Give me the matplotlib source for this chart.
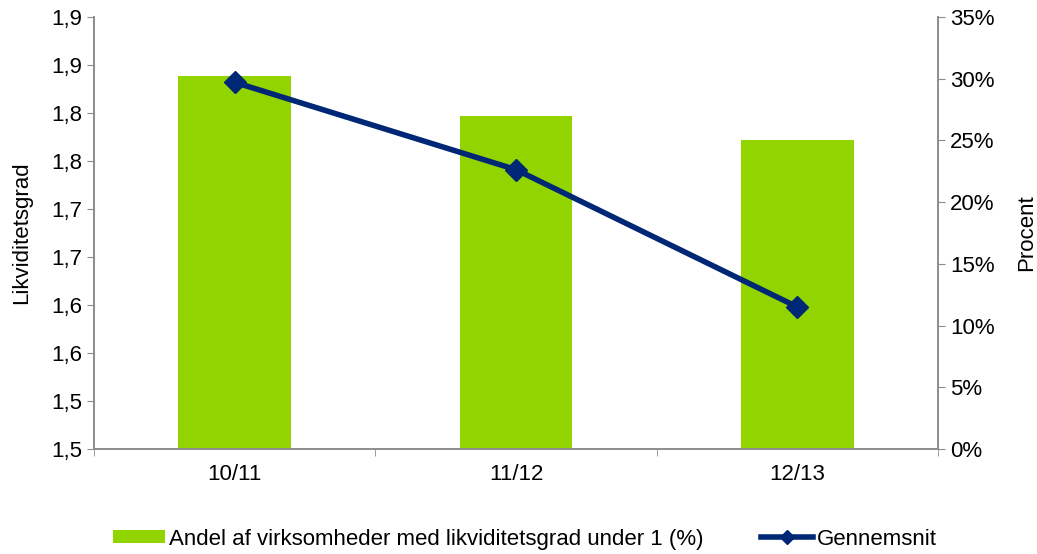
import matplotlib.pyplot as plt
from matplotlib.patches import Patch
from matplotlib.lines import Line2D

plt.rcParams['font.family'] = ['Liberation Sans', 'DejaVu Sans']

# data
periods = ["10/11", "11/12", "12/13"]
andel_pct = [30.2, 27.0, 25.0]          # right axis, percent
gennemsnit = [1.882, 1.791, 1.648]      # left axis, likviditetsgrad

left_ticks = [1.50, 1.55, 1.60, 1.65, 1.70, 1.75, 1.80, 1.85, 1.90, 1.95]
left_labels = ["1,5", "1,5", "1,6", "1,6", "1,7", "1,7", "1,8", "1,8", "1,9", "1,9"]
right_ticks = [0, 5, 10, 15, 20, 25, 30, 35]

GREEN = "#92D400"
NAVY = "#002776"
GRAY = "#8C8C8C"
FS = 16

fig = plt.figure(figsize=(10.37, 5.54), dpi=100)
ax = fig.add_axes([0.0906, 0.1895, 0.8139, 0.7798])
ax2 = ax.twinx()

x = list(range(len(periods)))
ax2.bar(x, andel_pct, width=0.4, color=GREEN, zorder=1)
ax2.set_ylim(0, 35)
ax2.set_yticks(right_ticks)
ax2.set_yticklabels([f"{t}%" for t in right_ticks], fontsize=FS)
ax2.set_ylabel("Procent", fontsize=FS, labelpad=16)

ax.plot(x, gennemsnit, color=NAVY, lw=4, marker="D", markersize=11, zorder=5)
ax.set_ylim(1.5, 1.95)
ax.set_yticks(left_ticks)
ax.set_yticklabels(left_labels, fontsize=FS)
ax.set_ylabel("Likviditetsgrad", fontsize=FS, labelpad=14)

ax.set_xlim(-0.5, 2.5)
ax.set_xticks(x)
ax.set_xticklabels(periods, fontsize=FS)
ax.set_xticks([-0.5, 0.5, 1.5, 2.5], minor=True)
ax.tick_params(axis="x", which="major", length=0, pad=11)
ax.tick_params(axis="x", which="minor", length=5, color=GRAY)
ax.tick_params(axis="y", length=5, color=GRAY)
ax2.tick_params(axis="y", length=5, color=GRAY)

# line above bars
ax.set_zorder(ax2.get_zorder() + 1)
ax.patch.set_visible(False)

for a in (ax, ax2):
    a.spines["top"].set_visible(False)
    for s in ("left", "right", "bottom"):
        a.spines[s].set_color(GRAY)
        a.spines[s].set_linewidth(1.2)

handles = [
    Patch(facecolor=GREEN, label="Andel af virksomheder med likviditetsgrad under 1 (%)"),
    Line2D([0], [0], color=NAVY, lw=4, marker="D", markersize=7, label="Gennemsnit"),
]
fig.legend(handles=handles, loc="center", bbox_to_anchor=(0.506, 0.027), ncol=2,
           frameon=False, fontsize=FS, handlelength=2.35, handleheight=0.55,
           handletextpad=0.15, columnspacing=2.6)

fig.savefig("out.png", dpi=100)
